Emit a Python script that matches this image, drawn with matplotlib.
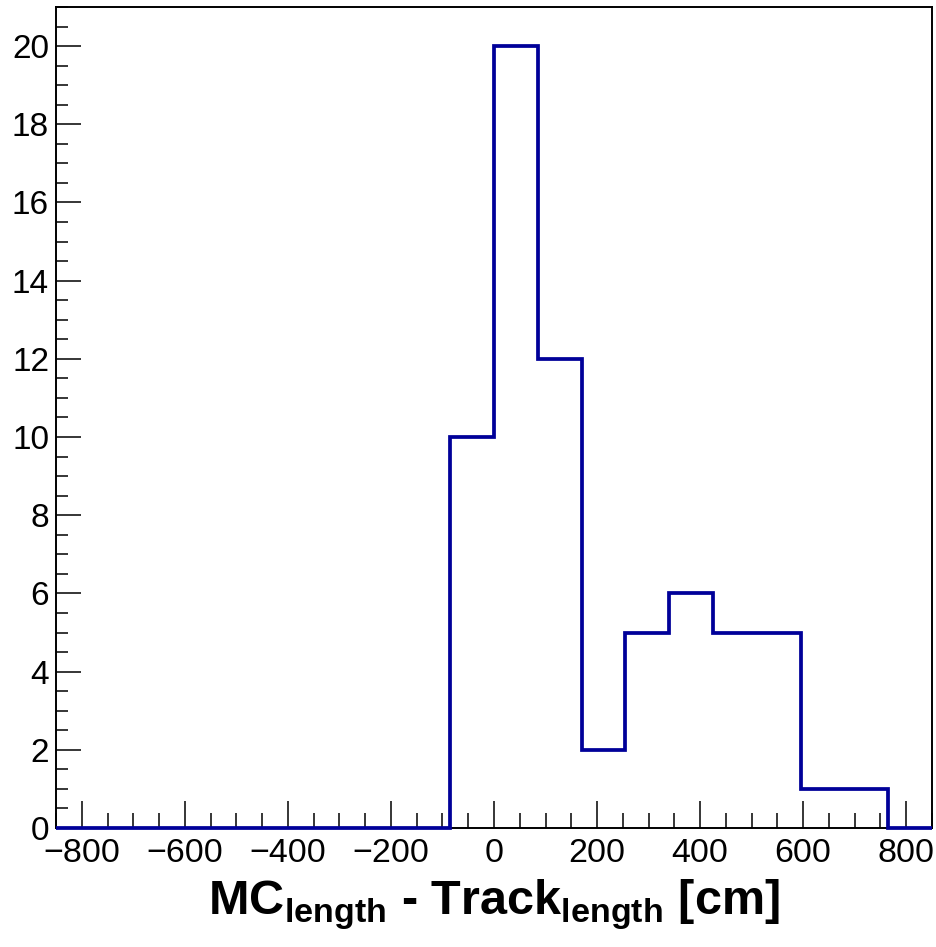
import matplotlib
matplotlib.use("Agg")
import matplotlib.pyplot as plt
from matplotlib.ticker import MultipleLocator

plt.rcParams['font.family'] = ['Liberation Sans', 'DejaVu Sans']
plt.rcParams['mathtext.fontset'] = 'custom'
plt.rcParams['mathtext.rm'] = 'Liberation Sans'
plt.rcParams['mathtext.bf'] = 'Liberation Sans:bold'

# Histogram data: 20 bins from -850 to 850
bin_edges = [-850, -765, -680, -595, -510, -425, -340, -255, -170, -85, 0,
             85, 170, 255, 340, 425, 510, 595, 680, 765, 850]
counts = [0, 0, 0, 0, 0, 0, 0, 0, 0, 10, 20, 12, 2, 5, 6, 5, 5, 1, 1, 0]
x_ticks = [-800, -600, -400, -200, 0, 200, 400, 600, 800]
y_ticks = [0, 2, 4, 6, 8, 10, 12, 14, 16, 18, 20]

fig = plt.figure(figsize=(9.36, 9.47), dpi=100)
ax = fig.add_axes([56/936, 1-828/947, (932-56)/936, (828-7)/947])

ax.stairs(counts, bin_edges, color='#000099', linewidth=2.7, zorder=3,
          clip_on=False, baseline=None)

ax.set_xlim(-850, 850)
ax.set_ylim(0, 21)
ax.set_xticks(x_ticks)
ax.set_yticks(y_ticks)
ax.xaxis.set_minor_locator(MultipleLocator(50))
ax.yaxis.set_minor_locator(MultipleLocator(0.5))

ax.tick_params(axis='x', which='major', direction='in', length=19.5, width=1.1,
               labelsize=24.5, pad=7, top=False)
ax.tick_params(axis='x', which='minor', direction='in', length=10.5, width=1.1, top=False)
ax.tick_params(axis='y', which='major', direction='in', length=18, width=1.1,
               labelsize=24, pad=5, right=False)
ax.tick_params(axis='y', which='minor', direction='in', length=8.6, width=1.1, right=False)

for sp in ax.spines.values():
    sp.set_linewidth(1.4)
    sp.set_color('black')

fig.text(494/936, 1-915/947, r'MC$_{\mathbf{length}}$ - Track$_{\mathbf{length}}$ [cm]',
         ha='center', va='baseline', fontsize=35, fontweight='bold')

fig.savefig('out.png', dpi=100)
